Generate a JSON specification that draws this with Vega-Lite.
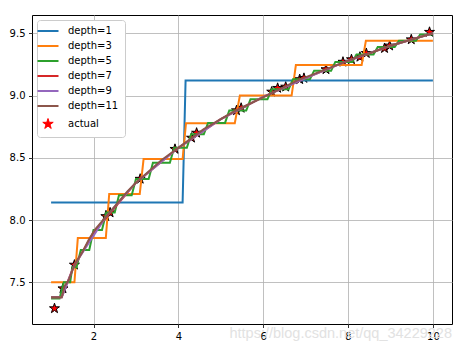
{
  "$schema": "https://vega.github.io/schema/vega-lite/v6.json",
  "width": 420,
  "height": 309,
  "autosize": "none",
  "padding": {"left": 32, "top": 15, "right": 15, "bottom": 27},
  "background": "white",
  "config": {
    "font": "DejaVu Sans",
    "view": {"stroke": "black", "strokeWidth": 1},
    "axis": {
      "domain": false,
      "grid": true,
      "gridColor": "#b0b0b0",
      "gridWidth": 0.8,
      "tickColor": "black",
      "tickSize": 3.5,
      "tickWidth": 0.8,
      "labelColor": "black",
      "labelFont": "DejaVu Sans",
      "labelFontSize": 10,
      "labelPadding": 3.5,
      "title": null
    }
  },
  "title": {
    "text": "https://blog.csdn.net/qq_34229228",
    "orient": "bottom",
    "anchor": "end",
    "offset": -14,
    "color": "#e2e2e2",
    "font": "Liberation Sans",
    "fontSize": 14.5,
    "fontWeight": "normal"
  },
  "datasets": {
    "pts": [
      {"x": 1.08, "y": 7.29}, {"x": 1.28, "y": 7.45}, {"x": 1.55, "y": 7.64},
      {"x": 2.29, "y": 8.03}, {"x": 2.39, "y": 8.06}, {"x": 3.10, "y": 8.33},
      {"x": 3.92, "y": 8.57}, {"x": 4.31, "y": 8.66}, {"x": 4.43, "y": 8.70},
      {"x": 5.37, "y": 8.88}, {"x": 5.48, "y": 8.90}, {"x": 6.20, "y": 9.03},
      {"x": 6.34, "y": 9.06}, {"x": 6.53, "y": 9.07}, {"x": 6.86, "y": 9.13},
      {"x": 6.96, "y": 9.14}, {"x": 7.48, "y": 9.21}, {"x": 7.88, "y": 9.27},
      {"x": 8.08, "y": 9.29}, {"x": 8.28, "y": 9.31}, {"x": 8.43, "y": 9.34},
      {"x": 8.86, "y": 9.38}, {"x": 8.98, "y": 9.40}, {"x": 9.49, "y": 9.45},
      {"x": 9.92, "y": 9.51}
    ],
    "lines": [
      {"d": "depth=1", "x": 1.0, "y": 8.14}, {"d": "depth=1", "x": 4.1, "y": 8.14},
      {"d": "depth=1", "x": 4.17, "y": 9.12}, {"d": "depth=1", "x": 10.0, "y": 9.12},

      {"d": "depth=3", "x": 1.0, "y": 7.50}, {"d": "depth=3", "x": 1.55, "y": 7.50},
      {"d": "depth=3", "x": 1.63, "y": 7.855}, {"d": "depth=3", "x": 2.29, "y": 7.855},
      {"d": "depth=3", "x": 2.37, "y": 8.21}, {"d": "depth=3", "x": 3.09, "y": 8.21},
      {"d": "depth=3", "x": 3.18, "y": 8.49}, {"d": "depth=3", "x": 4.10, "y": 8.49},
      {"d": "depth=3", "x": 4.18, "y": 8.778}, {"d": "depth=3", "x": 5.33, "y": 8.778},
      {"d": "depth=3", "x": 5.45, "y": 9.00}, {"d": "depth=3", "x": 6.67, "y": 9.00},
      {"d": "depth=3", "x": 6.77, "y": 9.245}, {"d": "depth=3", "x": 8.32, "y": 9.245},
      {"d": "depth=3", "x": 8.42, "y": 9.44}, {"d": "depth=3", "x": 10.0, "y": 9.44},

      {"d": "depth=5", "x": 1.0, "y": 7.37}, {"d": "depth=5", "x": 1.2, "y": 7.37},
      {"d": "depth=5", "x": 1.3, "y": 7.50}, {"d": "depth=5", "x": 1.45, "y": 7.50},
      {"d": "depth=5", "x": 1.5, "y": 7.62}, {"d": "depth=5", "x": 1.6, "y": 7.62},
      {"d": "depth=5", "x": 1.7, "y": 7.76}, {"d": "depth=5", "x": 1.9, "y": 7.76},
      {"d": "depth=5", "x": 2.0, "y": 7.92}, {"d": "depth=5", "x": 2.2, "y": 7.92},
      {"d": "depth=5", "x": 2.3, "y": 8.06}, {"d": "depth=5", "x": 2.5, "y": 8.06},
      {"d": "depth=5", "x": 2.6, "y": 8.20}, {"d": "depth=5", "x": 2.9, "y": 8.20},
      {"d": "depth=5", "x": 3.0, "y": 8.33}, {"d": "depth=5", "x": 3.3, "y": 8.33},
      {"d": "depth=5", "x": 3.4, "y": 8.46}, {"d": "depth=5", "x": 3.8, "y": 8.46},
      {"d": "depth=5", "x": 3.9, "y": 8.58}, {"d": "depth=5", "x": 4.2, "y": 8.58},
      {"d": "depth=5", "x": 4.3, "y": 8.69}, {"d": "depth=5", "x": 4.6, "y": 8.69},
      {"d": "depth=5", "x": 4.7, "y": 8.78}, {"d": "depth=5", "x": 5.1, "y": 8.78},
      {"d": "depth=5", "x": 5.2, "y": 8.88}, {"d": "depth=5", "x": 5.6, "y": 8.88},
      {"d": "depth=5", "x": 5.7, "y": 8.97}, {"d": "depth=5", "x": 6.1, "y": 8.97},
      {"d": "depth=5", "x": 6.2, "y": 9.05}, {"d": "depth=5", "x": 6.6, "y": 9.05},
      {"d": "depth=5", "x": 6.7, "y": 9.13}, {"d": "depth=5", "x": 7.1, "y": 9.13},
      {"d": "depth=5", "x": 7.2, "y": 9.20}, {"d": "depth=5", "x": 7.6, "y": 9.20},
      {"d": "depth=5", "x": 7.7, "y": 9.27}, {"d": "depth=5", "x": 8.1, "y": 9.27},
      {"d": "depth=5", "x": 8.2, "y": 9.33}, {"d": "depth=5", "x": 8.6, "y": 9.33},
      {"d": "depth=5", "x": 8.7, "y": 9.39}, {"d": "depth=5", "x": 9.1, "y": 9.39},
      {"d": "depth=5", "x": 9.2, "y": 9.44}, {"d": "depth=5", "x": 9.6, "y": 9.44},
      {"d": "depth=5", "x": 9.7, "y": 9.49}, {"d": "depth=5", "x": 10.0, "y": 9.49},

      {"d": "depth=7", "x": 1.0, "y": 7.38}, {"d": "depth=7", "x": 1.25, "y": 7.38},
      {"d": "depth=7", "x": 1.5, "y": 7.60}, {"d": "depth=7", "x": 2.0, "y": 7.90},
      {"d": "depth=7", "x": 3.0, "y": 8.30}, {"d": "depth=7", "x": 4.0, "y": 8.58},
      {"d": "depth=7", "x": 5.0, "y": 8.81}, {"d": "depth=7", "x": 6.0, "y": 8.99},
      {"d": "depth=7", "x": 7.0, "y": 9.14}, {"d": "depth=7", "x": 8.0, "y": 9.28},
      {"d": "depth=7", "x": 9.0, "y": 9.40}, {"d": "depth=7", "x": 10.0, "y": 9.50},

      {"d": "depth=9", "x": 1.0, "y": 7.38}, {"d": "depth=9", "x": 1.25, "y": 7.38},
      {"d": "depth=9", "x": 1.55, "y": 7.64}, {"d": "depth=9", "x": 2.3, "y": 8.03},
      {"d": "depth=9", "x": 3.0, "y": 8.30}, {"d": "depth=9", "x": 4.0, "y": 8.58},
      {"d": "depth=9", "x": 5.0, "y": 8.81}, {"d": "depth=9", "x": 6.0, "y": 8.99},
      {"d": "depth=9", "x": 7.0, "y": 9.14}, {"d": "depth=9", "x": 8.0, "y": 9.28},
      {"d": "depth=9", "x": 9.0, "y": 9.40}, {"d": "depth=9", "x": 10.0, "y": 9.50},

      {"d": "depth=11", "x": 1.0, "y": 7.38}, {"d": "depth=11", "x": 1.25, "y": 7.38},
      {"d": "depth=11", "x": 1.32, "y": 7.47}, {"d": "depth=11", "x": 1.42, "y": 7.52},
      {"d": "depth=11", "x": 1.55, "y": 7.64}, {"d": "depth=11", "x": 1.62, "y": 7.68},
      {"d": "depth=11", "x": 1.75, "y": 7.75}, {"d": "depth=11", "x": 1.9, "y": 7.85},
      {"d": "depth=11", "x": 2.05, "y": 7.93}, {"d": "depth=11", "x": 2.2, "y": 7.99},
      {"d": "depth=11", "x": 2.3, "y": 8.03}, {"d": "depth=11", "x": 2.4, "y": 8.07},
      {"d": "depth=11", "x": 2.6, "y": 8.15}, {"d": "depth=11", "x": 2.8, "y": 8.23},
      {"d": "depth=11", "x": 3.0, "y": 8.30}, {"d": "depth=11", "x": 3.2, "y": 8.36},
      {"d": "depth=11", "x": 3.4, "y": 8.42}, {"d": "depth=11", "x": 3.6, "y": 8.48},
      {"d": "depth=11", "x": 3.8, "y": 8.53}, {"d": "depth=11", "x": 4.0, "y": 8.58},
      {"d": "depth=11", "x": 4.2, "y": 8.63}, {"d": "depth=11", "x": 4.4, "y": 8.68},
      {"d": "depth=11", "x": 4.6, "y": 8.73}, {"d": "depth=11", "x": 4.8, "y": 8.77},
      {"d": "depth=11", "x": 5.0, "y": 8.81}, {"d": "depth=11", "x": 5.3, "y": 8.87},
      {"d": "depth=11", "x": 5.6, "y": 8.92}, {"d": "depth=11", "x": 5.9, "y": 8.97},
      {"d": "depth=11", "x": 6.2, "y": 9.02}, {"d": "depth=11", "x": 6.5, "y": 9.07},
      {"d": "depth=11", "x": 6.8, "y": 9.12}, {"d": "depth=11", "x": 7.1, "y": 9.16},
      {"d": "depth=11", "x": 7.4, "y": 9.20}, {"d": "depth=11", "x": 7.7, "y": 9.24},
      {"d": "depth=11", "x": 8.0, "y": 9.28}, {"d": "depth=11", "x": 8.3, "y": 9.32},
      {"d": "depth=11", "x": 8.6, "y": 9.35}, {"d": "depth=11", "x": 8.9, "y": 9.39},
      {"d": "depth=11", "x": 9.2, "y": 9.42}, {"d": "depth=11", "x": 9.5, "y": 9.45},
      {"d": "depth=11", "x": 9.8, "y": 9.48}, {"d": "depth=11", "x": 10.0, "y": 9.50}
    ]
  },
  "encoding": {
    "x": {
      "field": "x", "type": "quantitative",
      "scale": {"domain": [0.55, 10.45], "nice": false, "zero": false},
      "axis": {"values": [2, 4, 6, 8, 10]}
    },
    "y": {
      "field": "y", "type": "quantitative",
      "scale": {"domain": [7.165, 9.647], "nice": false, "zero": false},
      "axis": {"values": [7.5, 8.0, 8.5, 9.0, 9.5], "format": ".1f"}
    }
  },
  "layer": [
    {
      "data": {"name": "pts"},
      "mark": {"type": "point", "shape": "M0,-1L0.225,-0.309L0.951,-0.309L0.363,0.118L0.588,0.809L0,0.382L-0.588,0.809L-0.363,0.118L-0.951,-0.309L-0.225,-0.309Z", "filled": true, "size": 110, "stroke": "black", "strokeWidth": 1, "opacity": 1},
      "encoding": {
        "color": {"datum": "actual", "type": "nominal"}
      }
    },
    {
      "data": {"name": "lines"},
      "mark": {"type": "line", "strokeWidth": 2},
      "encoding": {
        "color": {
          "field": "d", "type": "nominal", "sort": null,
          "scale": {
            "domain": ["depth=1", "depth=3", "depth=5", "depth=7", "depth=9", "depth=11", "actual"],
            "range": ["#1f77b4", "#ff7f0e", "#2ca02c", "#d62728", "#9467bd", "#8c564b", "#ff0000"]
          },
          "legend": {
            "title": null,
            "orient": "top-left",
            "offset": 5,
            "padding": 6,
            "fillColor": "white",
            "strokeColor": "#cccccc",
            "cornerRadius": 3,
            "labelFont": "DejaVu Sans",
            "labelFontSize": 10,
            "labelColor": "black",
            "labelOffset": 15,
            "rowPadding": 5,
            "symbolType": "stroke",
            "symbolSize": 441,
            "symbolStrokeWidth": 2,
            "encode": {
              "symbols": {
                "update": {
                  "shape": {"signal": "datum.value === 'actual' ? 'M0,-1L0.225,-0.309L0.951,-0.309L0.363,0.118L0.588,0.809L0,0.382L-0.588,0.809L-0.363,0.118L-0.951,-0.309L-0.225,-0.309Z' : 'stroke'"},
                  "fill": {"signal": "datum.value === 'actual' ? '#ff0000' : 'transparent'"},
                  "stroke": {"signal": "datum.value === 'actual' ? '#000000' : datum.value === 'depth=1' ? '#1f77b4' : datum.value === 'depth=3' ? '#ff7f0e' : datum.value === 'depth=5' ? '#2ca02c' : datum.value === 'depth=7' ? '#d62728' : datum.value === 'depth=9' ? '#9467bd' : '#8c564b'"},
                  "strokeWidth": {"signal": "datum.value === 'actual' ? 1 : 2"},
                  "size": {"signal": "datum.value === 'actual' ? 120 : 441"},
                  "opacity": {"value": 1}
                }
              }
            }
          }
        }
      }
    }
  ]
}
